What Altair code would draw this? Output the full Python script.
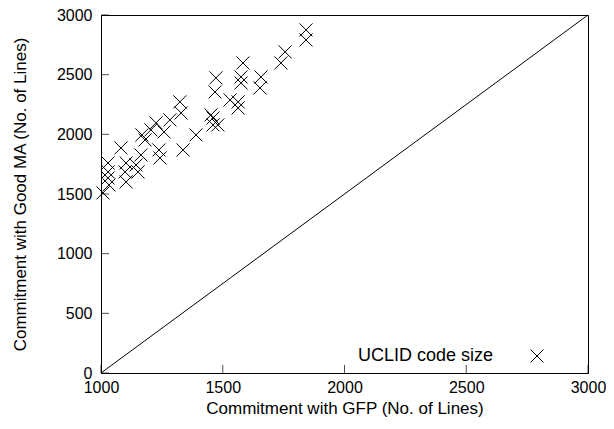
import altair as alt
import pandas as pd

# Scatter data (Commitment with GFP vs Commitment with Good MA, lines)
gfp = [1008, 1033, 1029, 1029, 1029, 1082, 1103, 1099, 1103, 1144, 1152, 1181, 1164,
       1168, 1205, 1226, 1259, 1238, 1242, 1283, 1329, 1324, 1337, 1390, 1452, 1460,
       1460, 1480, 1468, 1472, 1530, 1563, 1563, 1575, 1575, 1583, 1657, 1653, 1739,
       1756, 1842, 1842]
good_ma = [1509, 1576, 1634, 1685, 1760, 1886, 1760, 1685, 1601, 1743, 1685, 1953, 1827,
           1995, 2037, 2096, 2020, 1869, 1802, 2121, 2179, 2272, 1869, 1995, 2163, 2079,
           2137, 2079, 2355, 2473, 2288, 2272, 2221, 2481, 2431, 2598, 2481, 2389, 2598,
           2691, 2791, 2875]

diag_x = [1000, 3000]
diag_y = [0, 3000]

x_ticks = [1000, 1500, 2000, 2500, 3000]
y_ticks = [0, 500, 1000, 1500, 2000, 2500, 3000]

legend_label = "UCLID code size"

W, H = 487, 358
FONT = "Liberation Sans"
CROSS = "M-1,-1L1,1M-1,1L1,-1"

pts = pd.DataFrame({"gfp": gfp, "ma": good_ma})
diag = pd.DataFrame({"gfp": diag_x, "ma": diag_y})
xt = pd.DataFrame({"v": x_ticks})
yt = pd.DataFrame({"v": y_ticks})

xs = alt.Scale(domain=[1000, 3000], nice=False, zero=False)
ys = alt.Scale(domain=[0, 3000], nice=False)

xax = alt.Axis(values=x_ticks, title="Commitment with GFP (No. of Lines)", ticks=False,
               grid=False, labelPadding=6, titlePadding=5, format="d", labelFlush=False)
yax = alt.Axis(values=y_ticks, title="Commitment with Good MA (No. of Lines)", ticks=False,
               grid=False, labelPadding=9, titlePadding=27, format="d", labelFlush=False)

line = alt.Chart(diag).mark_line(color="black", strokeWidth=1).encode(
    x=alt.X("gfp:Q", scale=xs, axis=xax),
    y=alt.Y("ma:Q", scale=ys, axis=yax),
)

points = alt.Chart(pts).mark_point(shape=CROSS, size=170, color="black",
                                   strokeWidth=1, filled=False, opacity=1).encode(
    x=alt.X("gfp:Q", scale=xs),
    y=alt.Y("ma:Q", scale=ys),
)

xticks = alt.Chart(xt).mark_tick(orient="vertical", size=8, thickness=1, color="black").encode(
    x=alt.X("v:Q", scale=xs),
    y=alt.value(H - 4),
)
yticks = alt.Chart(yt).mark_tick(orient="horizontal", size=8, thickness=1, color="black").encode(
    y=alt.Y("v:Q", scale=ys),
    x=alt.value(4),
)

leg_text = alt.Chart(pd.DataFrame({"t": [legend_label]})).mark_text(
    align="left", baseline="middle", font=FONT, fontSize=18, color="black"
).encode(text="t:N", x=alt.value(257), y=alt.value(341))

leg_sym = alt.Chart(pd.DataFrame({"t": [legend_label]})).mark_point(
    shape=CROSS, size=170, color="black", strokeWidth=1, filled=False, opacity=1
).encode(x=alt.value(436), y=alt.value(341))

chart = alt.layer(line, points, xticks, yticks, leg_text, leg_sym).properties(
    width=W, height=H,
    autosize=alt.AutoSizeParams(type="none"),
    padding={"left": 93, "top": 7, "right": 18, "bottom": 48},
).configure_view(stroke="black", strokeWidth=1).configure_axis(
    domainColor="black", domainWidth=1, labelFont=FONT, labelFontSize=16,
    labelColor="black", titleFont=FONT, titleFontSize=17, titleFontWeight="normal",
    titleColor="black",
)

chart.save("out.html", embed_options={"renderer": "svg", "actions": False})
